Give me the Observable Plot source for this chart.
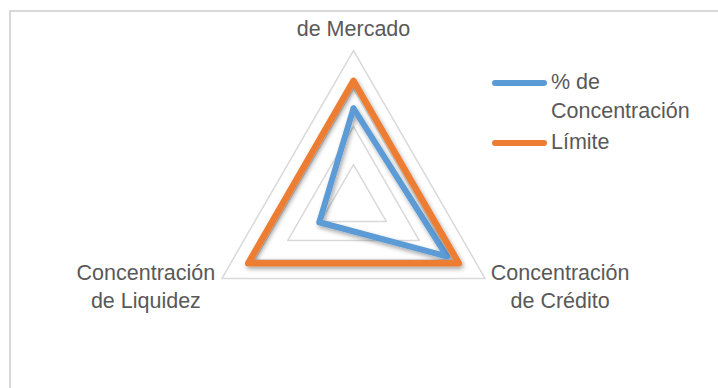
<!DOCTYPE html>
<html>
<head>
<meta charset="utf-8">
<script src="https://cdn.jsdelivr.net/npm/d3@7"></script>
<script src="https://cdn.jsdelivr.net/npm/@observablehq/plot@0.6"></script>
<style>
  html, body { margin: 0; padding: 0; background: #fff; }
  #wrap { position: relative; width: 718px; height: 388px; overflow: hidden; font-family: "Liberation Sans", Arial, sans-serif; }
  #border { position: absolute; left: 9px; top: 9.5px; width: 800px; height: 500px; border-left: 2px solid #d9d9d9; border-top: 2px solid #d9d9d9; }
  .sw { position: absolute; left: 492px; width: 55px; height: 6px; border-radius: 3px; }
  .lt { position: absolute; left: 551px; width: 160px; font-size: 21.5px; line-height: 29px; color: #595959; }
  svg { position: absolute; left: 0; top: 0; }
</style>
</head>
<body>
<div id="wrap">
  <div id="border"></div>
</div>
<script>
// ---- data ----
const categories = ["Concentración de Mercado", "Concentración de Crédito", "Concentración de Liquidez"];
const axisLabels = ["de Mercado", "Concentración\nde Crédito", "Concentración\nde Liquidez"];
const concentracion = [0.62, 0.71, 0.26];
const limite = [0.80, 0.80, 0.80];
const gridLevels = [0.25, 0.5, 0.75, 1];
const seriesNames = ["% de Concentración", "Límite"];
const seriesColors = ["#5B9BD5", "#ED7D31"];

// ---- helpers ----
const angleOf = i => (90 - i * 360 / categories.length) * Math.PI / 180;
const pt = (i, v) => ({x: v * Math.cos(angleOf(i)), y: v * Math.sin(angleOf(i))});
const ring = (vals, key) => {
  const pts = vals.map((v, i) => ({...pt(i, v), key}));
  pts.push({...pts[0]});
  return pts;
};

const gridData = gridLevels.flatMap(l => ring(categories.map(() => l), "g" + l));
const blueData = ring(concentracion, seriesNames[0]);
const orangeData = ring(limite, seriesNames[1]);
const labelData = categories.map((c, i) => ({...pt(i, 1), text: axisLabels[i], i}));

// scales: centre of radar at pixel (353,202), radius 152 px per unit
const W = 718, H = 388, cx = 353, cy = 202, R = 152;

const chart = Plot.plot({
  width: W, height: H,
  margin: 0,
  x: {domain: [-cx / R, (W - cx) / R], axis: null},
  y: {domain: [-(H - cy) / R, cy / R], axis: null},
  style: {background: "transparent", fontFamily: "'Liberation Sans', Arial, sans-serif"},
  marks: [
    Plot.line(gridData, {x: "x", y: "y", z: "key", stroke: "#d9d9d9", strokeWidth: 1.5}),
    Plot.line(blueData, {x: "x", y: "y", stroke: seriesColors[0], strokeWidth: 6, strokeLinejoin: "round", strokeLinecap: "round"}),
    Plot.line(orangeData, {x: "x", y: "y", stroke: seriesColors[1], strokeWidth: 6.5, strokeLinejoin: "round", strokeLinecap: "round"}),
    Plot.text(labelData.filter(d => d.i === 0), {x: "x", y: "y", text: "text", lineAnchor: "top", dy: -30, fontSize: 21.5, fill: "#595959", textAnchor: "middle"}),
    Plot.text(labelData.filter(d => d.i === 1), {x: "x", y: "y", text: "text", lineAnchor: "top", dy: -18, dx: 75, fontSize: 21.5, lineHeight: 1.3, fill: "#595959", textAnchor: "middle"}),
    Plot.text(labelData.filter(d => d.i === 2), {x: "x", y: "y", text: "text", lineAnchor: "top", dy: -18, dx: -76, fontSize: 21.5, lineHeight: 1.3, fill: "#595959", textAnchor: "middle"})
  ]
});

// drop shadow on series lines (Excel style)
const ns = "http://www.w3.org/2000/svg";
const defs = document.createElementNS(ns, "defs");
defs.innerHTML = '<filter id="sh" x="-20%" y="-20%" width="140%" height="140%"><feDropShadow dx="1.5" dy="2.5" stdDeviation="2" flood-color="#000" flood-opacity="0.35"/></filter>';
chart.insertBefore(defs, chart.firstChild);
const lineGroups = chart.querySelectorAll('g[aria-label="line"]');
lineGroups.forEach((g, k) => { if (k > 0) g.setAttribute("filter", "url(#sh)"); });

const wrap = document.getElementById("wrap");
wrap.appendChild(chart);

// legend
const legendTops = [{sw: 80, txt: 68}, {sw: 140, txt: 128}];
seriesNames.forEach((name, k) => {
  const sw = document.createElement("div");
  sw.className = "sw";
  sw.style.top = legendTops[k].sw + "px";
  sw.style.background = seriesColors[k];
  wrap.appendChild(sw);
  const t = document.createElement("div");
  t.className = "lt";
  t.style.top = legendTops[k].txt + "px";
  t.textContent = name;
  wrap.appendChild(t);
});
</script>
</body>
</html>
